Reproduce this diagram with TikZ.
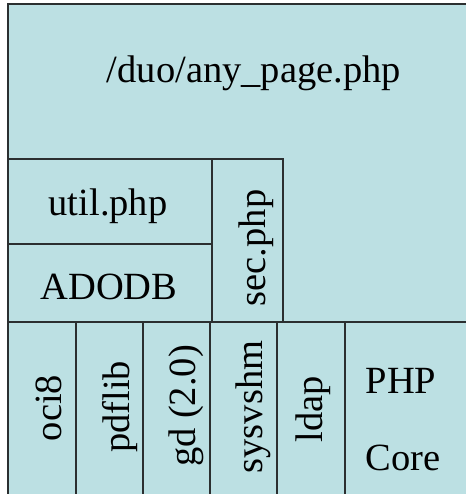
\documentclass[tikz,border=0pt]{standalone}
\usepackage{fontspec}
\setmainfont{Liberation Serif}
\definecolor{Sky}{HTML}{BCE0E3}
\definecolor{Rule}{HTML}{2B2F30}
\tikzset{
  outline/.style={line width=1.8pt,draw=Rule},
  divider/.style={line width=1.1pt,draw=Rule},
  label/.style={inner sep=0pt,text=black,font=\fontsize{38.5}{44}\selectfont},
  uplabel/.style={label,rotate=90,anchor=base},
}
\begin{document}
\begin{tikzpicture}[x=1pt,y=-1pt]
    \useasboundingbox (0,0) rectangle (466,494);
    \fill[white] (0,0) rectangle (466,494);
    \fill[Sky] (8,4) rectangle (466,494);
    \draw[outline] (8,494) -- (8,4) -- (466,4);

    % application layer
    \draw[divider] (8,159) -- (283,159) -- (283,322);
    \draw[divider] (212,159) -- (212,322);
    \draw[divider] (8,244) -- (212,244);
    \draw[divider] (8,322) -- (466,322);

    % extension row
    \foreach \xcut in {76,143,210,277,345}
      \draw[divider] (\xcut,322) -- (\xcut,494);

    \node[label,anchor=base] (page) at (254,83) {/duo/any\_page.php};
    \node[label,anchor=base] (util) at (108,215) {util.php};
    \node[label,anchor=base] (adodb) at (109,299) {ADODB};
    \node[uplabel] (sec) at (265,248) {sec.php};

    \node[uplabel] (oci) at (61,408) {oci8};
    \node[uplabel] (pdflib) at (129,407) {pdflib};
    \node[uplabel] (gd) at (195,406) {gd (2.0)};
    \node[uplabel] (sysvshm) at (262,407) {sysvshm};
    \node[uplabel] (ldap) at (322,409) {ldap};
    \node[label,anchor=base] (php) at (401,393) {PHP};
    \node[label,anchor=base] (core) at (403,470) {Core};
\end{tikzpicture}
\end{document}
